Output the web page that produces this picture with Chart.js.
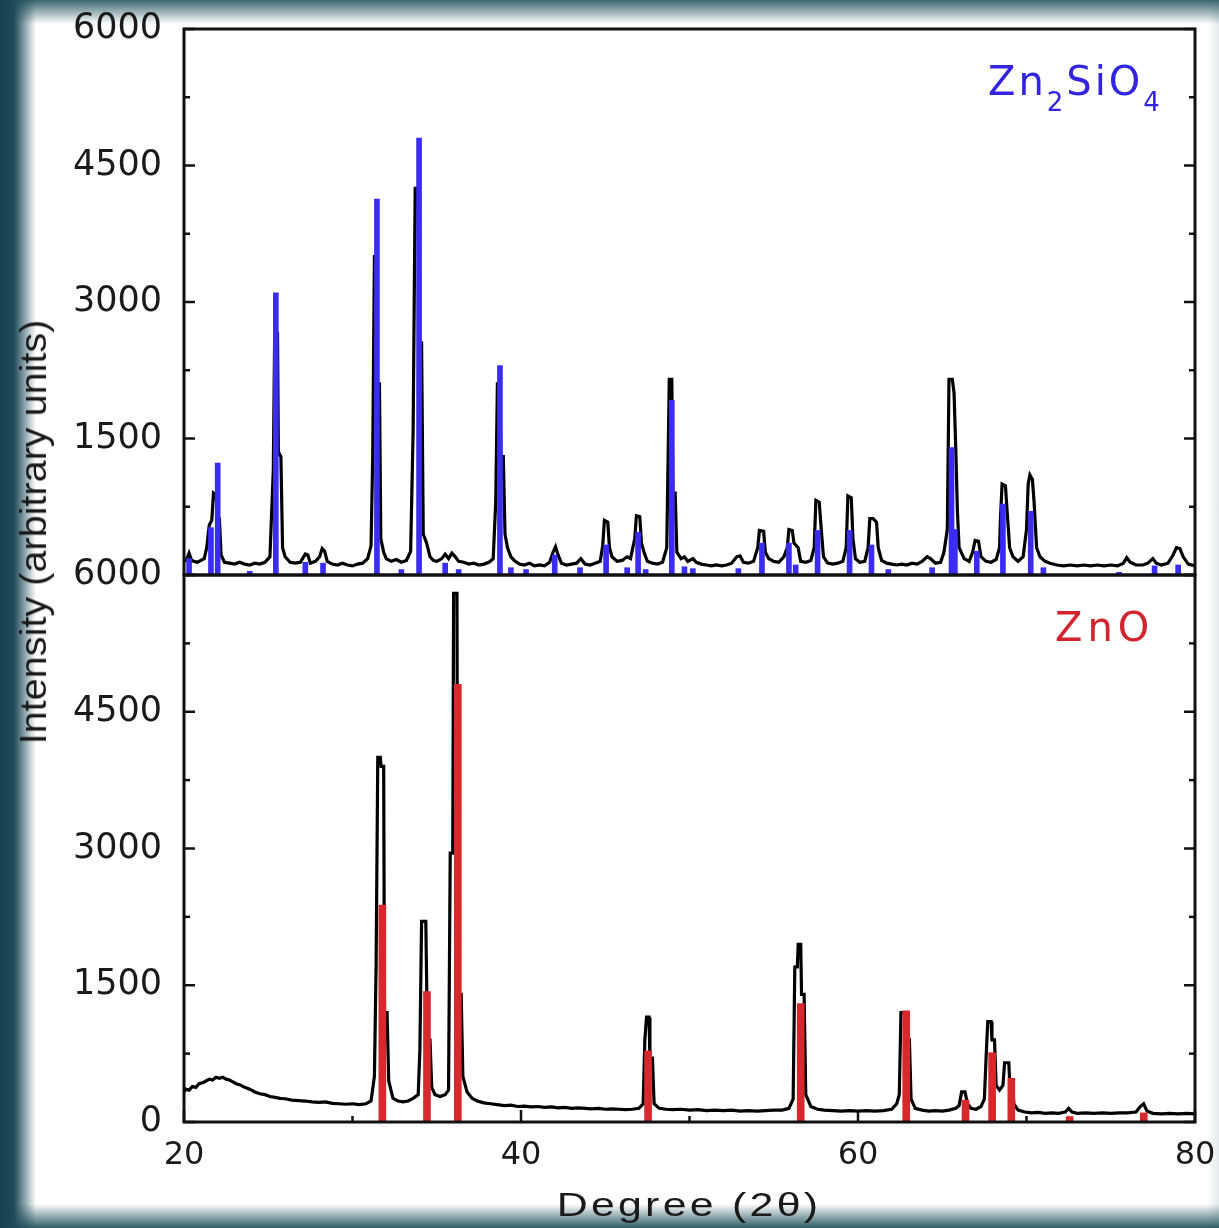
<!DOCTYPE html>
<html>
<head>
<meta charset="utf-8">
<script src="https://cdn.jsdelivr.net/npm/chart.js"></script>
<style>
  html, body { margin: 0; padding: 0; }
  #wrap { position: relative; width: 1219px; height: 1228px; overflow: hidden; background: #fff; }
  #bg {
    position: absolute; left: 0; top: 0; width: 1219px; height: 1228px;
    background:
      linear-gradient(to right, #163f4c 0px, #1d4b58 14px, rgba(255,255,255,0) 36px),
      linear-gradient(to bottom, #3a6670 0px, rgba(255,255,255,0) 24px),
      linear-gradient(to top, #2c5d66 0px, rgba(255,255,255,0) 24px),
      linear-gradient(to left, #e2e9eb 0px, rgba(255,255,255,0) 12px),
      #fff;
  }
  canvas { position: absolute; left: 0; top: 0; }
  .ytitle {
    position: absolute; left: 34px; top: 532px; white-space: nowrap;
    font: 36px "Liberation Sans", Arial, sans-serif; color: #1a1a1a; line-height: 1;
    transform: translate(-50%, -50%) rotate(-90deg) scaleX(1.1);
  }
  .xtitle {
    position: absolute; left: 689px; top: 1188px; white-space: nowrap;
    font: 33px "Liberation Sans", Arial, sans-serif; color: #1a1a1a; line-height: 1;
    letter-spacing: 2.5px;
    transform: translateX(-50%) scaleX(1.3);
  }
  .lab {
    position: absolute; white-space: nowrap; line-height: 1;
    font: 40px "DejaVu Sans", sans-serif;
  }
  .lab sub { font-size: 26px; vertical-align: -16px; line-height: 1; }
  .blue { left: 988px; top: 58px; color: #3324e0; letter-spacing: 3px; }
  .red { left: 1055px; top: 604px; color: #d2232e; letter-spacing: 5px; }
</style>
</head>
<body>
<div id="wrap">
  <div id="bg"></div>
  <canvas id="topChart" width="1219" height="1228"></canvas>
  <canvas id="botChart" width="1219" height="1228"></canvas>
  <div class="ytitle">Intensity (arbitrary units)</div>
  <div class="xtitle">Degree (2θ)</div>
  <div class="lab blue">Zn<sub>2</sub>SiO<sub>4</sub></div>
  <div class="lab red">ZnO</div>
</div>
<script>
// axis ticks
const xTicks = [20, 40, 60, 80];
const yTicks = [0, 1500, 3000, 4500, 6000];

// Zn2SiO4 sample pattern (top panel)
const znsDeg = [
  20.0, 20.15, 20.3, 20.45, 20.6, 20.8, 21.0, 21.2, 21.35, 21.5,
  21.65, 21.75, 21.9, 22.0, 22.1, 22.2, 22.4, 22.7, 23.0, 23.3,
  23.6, 23.9, 24.2, 24.5, 24.8, 25.1, 25.3, 25.38, 25.55, 25.6,
  25.75, 25.85, 26.0, 26.3, 26.6, 26.9, 27.2, 27.35, 27.5, 27.8,
  28.05, 28.2, 28.35, 28.5, 28.8, 29.1, 29.4, 29.7, 30.0, 30.3,
  30.6, 30.9, 31.1, 31.2, 31.3, 31.42, 31.48, 31.6, 31.68, 31.85,
  32.0, 32.3, 32.6, 32.9, 33.2, 33.45, 33.6, 33.72, 33.9, 33.95,
  34.1, 34.2, 34.4, 34.6, 34.8, 35.0, 35.3, 35.5, 35.7, 35.9,
  36.1, 36.3, 36.6, 36.9, 37.2, 37.5, 37.8, 38.1, 38.35, 38.5,
  38.6, 38.75, 38.8, 38.95, 39.05, 39.2, 39.4, 39.6, 39.9, 40.2,
  40.5, 40.8, 41.1, 41.4, 41.7, 41.9, 42.05, 42.2, 42.4, 42.7,
  43.0, 43.3, 43.55, 43.8, 44.1, 44.4, 44.7, 44.85, 44.95, 45.15,
  45.25, 45.4, 45.7, 46.0, 46.3, 46.5, 46.75, 46.85, 47.05, 47.15,
  47.3, 47.5, 47.8, 48.1, 48.4, 48.65, 48.8, 48.95, 49.02, 49.15,
  49.25, 49.5, 49.7, 49.9, 50.2, 50.4, 50.7, 51.0, 51.3, 51.6,
  51.9, 52.2, 52.5, 52.8, 53.0, 53.2, 53.5, 53.8, 54.05, 54.15,
  54.4, 54.5, 54.7, 55.0, 55.3, 55.6, 55.8, 55.9, 56.1, 56.2,
  56.45, 56.6, 56.9, 57.2, 57.4, 57.5, 57.7, 57.8, 57.95, 58.2,
  58.5, 58.8, 59.1, 59.3, 59.4, 59.6, 59.7, 59.85, 60.1, 60.4,
  60.6, 60.7, 60.9, 61.1, 61.2, 61.4, 61.7, 62.0, 62.3, 62.6,
  62.9, 63.2, 63.5, 63.8, 64.1, 64.3, 64.6, 64.9, 65.1, 65.3,
  65.4, 65.6, 65.7, 65.8, 65.9, 66.0, 66.3, 66.6, 66.8, 66.95,
  67.15, 67.3, 67.6, 67.9, 68.2, 68.4, 68.45, 68.55, 68.75, 68.85,
  69.0, 69.2, 69.5, 69.8, 70.0, 70.1, 70.2, 70.35, 70.45, 70.6,
  70.8, 71.1, 71.4, 71.8, 72.2, 72.6, 73.0, 73.4, 73.8, 74.2,
  74.6, 75.0, 75.4, 75.75, 75.95, 76.15, 76.5, 76.9, 77.2, 77.5,
  77.7, 78.0, 78.4, 78.7, 78.9, 79.1, 79.3, 79.6, 80.0
];
const znsCounts = [
  150, 170, 240, 160, 150, 140, 160, 180, 300, 550,
  600, 900, 880, 650, 620, 220, 140, 130, 120, 140,
  120, 110, 130, 120, 140, 200, 1150, 2650, 2650, 1350,
  1300, 300, 200, 140, 130, 140, 230, 220, 130, 150,
  200, 290, 260, 150, 120, 110, 130, 110, 100, 120,
  130, 180, 320, 1300, 3500, 3500, 2100, 2100, 400, 250,
  180, 150, 170, 140, 160, 260, 1600, 4250, 4250, 2550,
  2550, 450, 350, 200, 160, 150, 180, 230, 180, 240,
  200, 150, 140, 120, 130, 110, 120, 140, 180, 800,
  2100, 2100, 1300, 1300, 450, 300, 200, 160, 120, 110,
  130, 100, 110, 100, 140, 250, 310, 220, 130, 110,
  120, 130, 180, 120, 110, 130, 150, 320, 600, 580,
  300, 200, 150, 160, 200, 180, 400, 650, 640, 350,
  250, 150, 130, 120, 140, 300, 2150, 2150, 900, 900,
  250, 180, 200, 150, 180, 140, 120, 110, 100, 110,
  100, 110, 130, 200, 210, 140, 130, 150, 300, 490,
  480, 250, 180, 150, 140, 200, 300, 500, 490, 350,
  300, 150, 140, 160, 300, 820, 800, 550, 200, 130,
  120, 130, 150, 300, 870, 850, 400, 180, 140, 150,
  300, 620, 620, 580, 300, 160, 130, 120, 110, 120,
  110, 130, 120, 150, 200, 180, 130, 140, 250, 500,
  2150, 2150, 2000, 1400, 700, 300, 180, 150, 250, 380,
  370, 200, 150, 140, 170, 300, 600, 1000, 980, 700,
  300, 200, 150, 200, 500, 1000, 1100, 1050, 800, 300,
  200, 150, 130, 110, 100, 110, 100, 110, 100, 110,
  100, 110, 100, 130, 190, 140, 110, 110, 130, 180,
  130, 110, 130, 220, 300, 290, 200, 120, 100
];
// Zn2SiO4 reference lines
const znsRefDeg = [20.3, 21.6, 22.0, 23.9, 25.45, 27.2, 28.25, 31.45, 32.9, 33.95,
  35.5, 36.3, 38.75, 39.4, 40.3, 42.0, 43.5, 45.05, 46.3, 46.95,
  47.4, 48.95, 49.7, 50.2, 52.9, 54.3, 55.9, 56.3, 57.6, 59.5,
  60.8, 61.8, 64.4, 65.55, 65.75, 67.05, 68.6, 70.25, 71.0, 75.5,
  77.6, 79.0];
const znsRefInt = [180, 520, 1230, 40, 3100, 140, 130, 4130, 60, 4800,
  130, 60, 2300, 80, 60, 220, 80, 330, 80, 470,
  60, 1920, 90, 70, 70, 350, 350, 110, 490, 490,
  330, 60, 80, 1400, 500, 260, 780, 700, 80, 30,
  100, 110];

// ZnO sample pattern (bottom panel)
const znoDeg = [
  20.0, 20.1, 20.3, 20.5, 20.7, 20.9, 21.1, 21.3, 21.5, 21.7,
  21.9, 22.1, 22.3, 22.5, 22.7, 22.9, 23.1, 23.3, 23.6, 23.9,
  24.2, 24.5, 24.8, 25.1, 25.4, 25.7, 26.0, 26.4, 26.8, 27.2,
  27.6, 28.0, 28.4, 28.8, 29.2, 29.6, 30.0, 30.4, 30.8, 31.1,
  31.3, 31.4, 31.5, 31.65, 31.7, 31.85, 31.9, 32.05, 32.15, 32.4,
  32.7, 33.0, 33.3, 33.6, 33.9, 34.0, 34.1, 34.35, 34.45, 34.6,
  34.7, 34.9, 35.2, 35.5, 35.7, 35.8, 35.95, 36.0, 36.2, 36.25,
  36.45, 36.55, 36.8, 37.1, 37.4, 37.8, 38.2, 38.6, 39.0, 39.4,
  39.8, 40.2, 40.6, 41.0, 41.4, 41.8, 42.2, 42.6, 43.0, 43.4,
  43.8, 44.2, 44.6, 45.0, 45.4, 45.8, 46.2, 46.6, 47.0, 47.25,
  47.35, 47.45, 47.6, 47.65, 47.8, 47.9, 48.2, 48.6, 49.0, 49.5,
  50.0, 50.5, 51.0, 51.5, 52.0, 52.5, 53.0, 53.5, 54.0, 54.5,
  55.0, 55.5, 55.9, 56.15, 56.25, 56.4, 56.45, 56.6, 56.65, 56.8,
  56.9, 57.2, 57.6, 58.0, 58.5, 59.0, 59.5, 60.0, 60.5, 61.0,
  61.5, 62.0, 62.3, 62.45, 62.55, 62.85, 62.9, 63.05, 63.15, 63.4,
  63.8, 64.2, 64.6, 65.0, 65.4, 65.8, 66.0, 66.15, 66.35, 66.5,
  66.7, 67.0, 67.3, 67.5, 67.6, 67.7, 67.9, 67.95, 68.1, 68.2,
  68.4, 68.6, 68.7, 68.95, 69.0, 69.15, 69.25, 69.5, 69.9, 70.3,
  70.7, 71.1, 71.5, 71.9, 72.3, 72.5, 72.7, 73.0, 73.5, 74.0,
  74.5, 75.0, 75.5, 76.0, 76.5, 76.75, 76.95, 77.15, 77.5, 78.0,
  78.5, 79.0, 79.5, 80.0
];
const znoCounts = [
  330, 360, 350, 390, 380, 420, 430, 450, 470, 460,
  490, 480, 490, 470, 460, 440, 420, 410, 380, 360,
  330, 310, 300, 280, 270, 260, 255, 240, 235, 230,
  220, 215, 220, 205, 200, 195, 200, 190, 200, 230,
  500, 1700, 4000, 4000, 3900, 3900, 1200, 1200, 450, 260,
  230, 220, 230, 260, 300, 800, 2200, 2200, 900, 900,
  380, 300, 280, 300, 350, 2950, 2950, 5800, 5800, 1400,
  1400, 500, 330, 260, 230, 210, 200, 190, 180, 185,
  170, 175, 165, 170, 160, 165, 155, 160, 150, 155,
  150, 145, 150, 140, 145, 140, 135, 140, 150, 200,
  900, 1150, 1150, 700, 700, 200, 150, 140, 135, 140,
  130, 135, 125, 130, 125, 130, 120, 125, 120, 125,
  130, 130, 150, 250, 1700, 1700, 1950, 1950, 1400, 1400,
  300, 170, 140, 130, 125, 120, 125, 120, 125, 120,
  125, 140, 200, 300, 1200, 1200, 900, 900, 250, 150,
  130, 120, 125, 120, 130, 150, 180, 330, 330, 200,
  150, 140, 170, 250, 700, 1100, 1100, 900, 900, 400,
  350, 400, 650, 650, 450, 450, 200, 130, 110, 100,
  105, 95, 100, 95, 110, 150, 110, 95, 100, 95,
  100, 95, 100, 100, 110, 170, 200, 120, 95, 90,
  95, 90, 95, 90
];
// ZnO reference lines
const znoRefDeg = [31.77, 34.42, 36.25, 47.54, 56.6, 62.86, 66.38, 67.96, 69.1, 72.56, 76.96];
const znoRefInt = [2380, 1430, 4800, 780, 1300, 1220, 240, 760, 480, 60, 100];

const pts = (xs, ys) => xs.map((x, i) => ({ x: x, y: ys[i] }));

// box around the plot area with inward ticks
const frame = {
  id: 'frame',
  afterDatasetsDraw(chart, args, opts) {
    const { ctx, chartArea: a, scales } = chart;
    ctx.save();
    ctx.strokeStyle = '#111';
    ctx.lineWidth = 3;
    ctx.strokeRect(a.left, a.top, a.right - a.left, a.bottom - a.top);
    ctx.lineWidth = 2.5;
    const tick = (x1, y1, x2, y2) => {
      ctx.beginPath(); ctx.moveTo(x1, y1); ctx.lineTo(x2, y2); ctx.stroke();
    };
    const yv = scales.y.ticks.map(t => t.value);
    yv.forEach((v, i) => {
      const p = scales.y.getPixelForValue(v);
      tick(a.left, p, a.left + 11, p);
      tick(a.right, p, a.right - 11, p);
      if (i < yv.length - 1) {
        const m = scales.y.getPixelForValue((v + yv[i + 1]) / 2);
        tick(a.left, m, a.left + 6, m);
        tick(a.right, m, a.right - 6, m);
      }
    });
    if (opts.xTicks) {
      const xv = scales.x.ticks.map(t => t.value);
      xv.forEach((v, i) => {
        const p = scales.x.getPixelForValue(v);
        tick(p, a.bottom, p, a.bottom - 12);
        if (i < xv.length - 1) {
          const m = scales.x.getPixelForValue((v + xv[i + 1]) / 2);
          tick(m, a.bottom, m, a.bottom - 6);
        }
      });
    }
    ctx.restore();
  }
};

const noPad = s => { s.paddingTop = 0; s.paddingBottom = 0; s.paddingLeft = 0; s.paddingRight = 0; };

function makeChart(id, deg, counts, refDeg, refInt, refColor, refWidth, isBottom) {
  return new Chart(document.getElementById(id), {
    type: 'line',
    data: {
      datasets: [
        {
          type: 'bar',
          data: pts(refDeg, refInt),
          backgroundColor: refColor,
          barThickness: refWidth,
          grouped: false,
          order: 0
        },
        {
          type: 'line',
          data: pts(deg, counts),
          borderColor: '#000',
          borderWidth: 3.2,
          pointRadius: 0,
          tension: 0,
          order: 1
        }
      ]
    },
    options: {
      responsive: false,
      animation: false,
      layout: {
        padding: isBottom
          ? { left: 0, right: 24, top: 575, bottom: 0 }
          : { left: 0, right: 24, top: 29, bottom: 653 }
      },
      plugins: {
        legend: { display: false },
        tooltip: { enabled: false },
        frame: { xTicks: isBottom }
      },
      scales: {
        x: {
          type: 'linear',
          min: 20,
          max: 80,
          offset: false,
          display: isBottom,
          afterFit: s => { noPad(s); s.height = isBottom ? 106 : 0; },
          grid: { display: false, drawTicks: false, offset: false },
          border: { display: false },
          afterBuildTicks: s => { s.ticks = xTicks.map(v => ({ value: v })); },
          ticks: {
            padding: 14,
            maxRotation: 0,
            color: '#1a1a1a',
            font: { family: 'DejaVu Sans', size: 32 },
            callback: v => String(v)
          }
        },
        y: {
          min: 0,
          max: 6000,
          afterFit: s => { noPad(s); s.width = 184; },
          grid: { display: false, drawTicks: false },
          border: { display: false },
          afterBuildTicks: s => { s.ticks = yTicks.map(v => ({ value: v })); },
          ticks: {
            padding: 22,
            color: '#1a1a1a',
            font: { family: 'DejaVu Sans', size: 35 },
            callback: v => (!isBottom && v === 0) ? '' : String(v)
          }
        }
      }
    },
    plugins: [frame]
  });
}

makeChart('topChart', znsDeg, znsCounts, znsRefDeg, znsRefInt, '#3a2cf0', 5, false);
makeChart('botChart', znoDeg, znoCounts, znoRefDeg, znoRefInt, '#d8282c', 7, true);
</script>
</body>
</html>
